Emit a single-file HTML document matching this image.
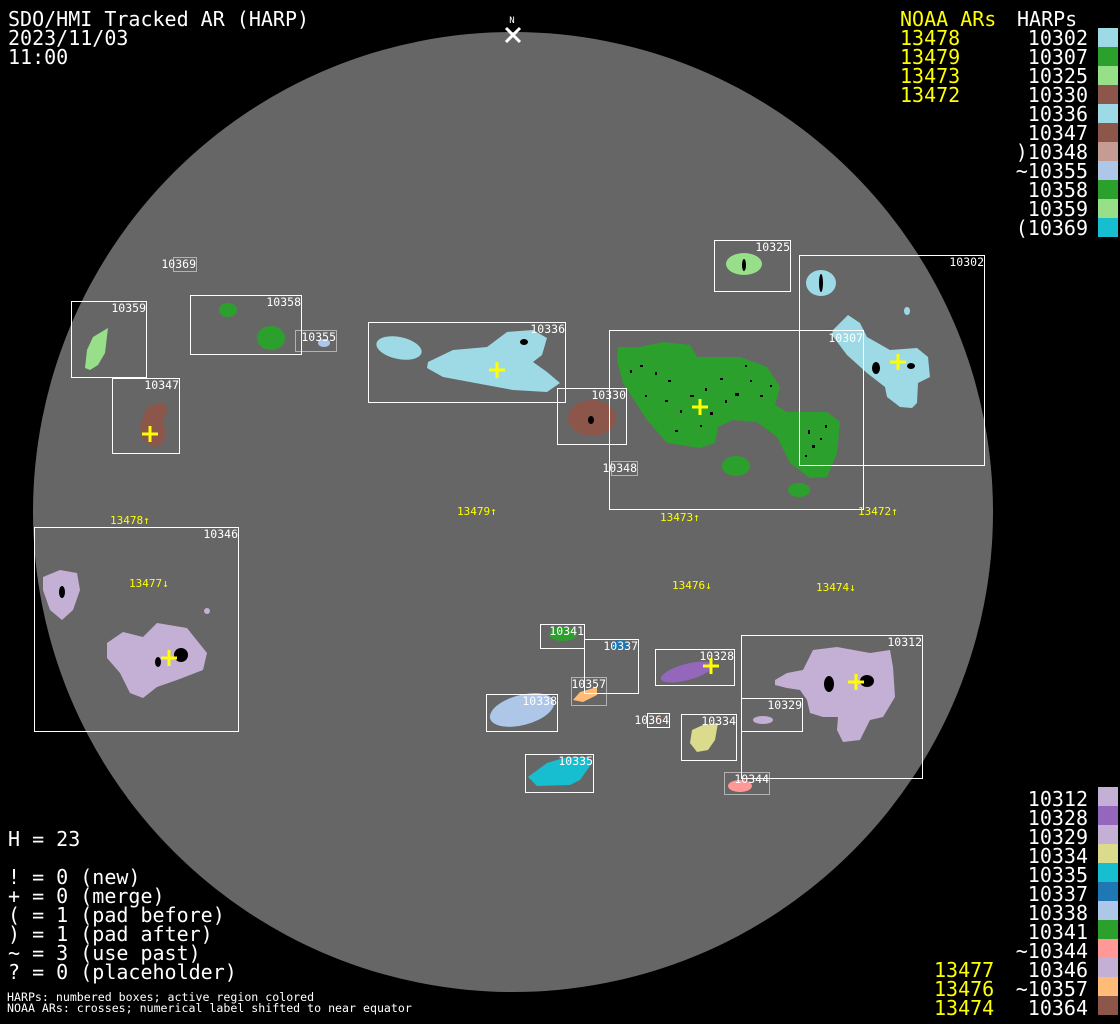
<!DOCTYPE html>
<html><head><meta charset="utf-8">
<style>
html,body{margin:0;padding:0;background:#000;}
#w{position:relative;width:1120px;height:1024px;overflow:hidden;background:#000;font-family:"DejaVu Sans Mono","Liberation Mono",monospace;color:#fff;}
.t{position:absolute;font-size:20px;line-height:19px;white-space:pre;}
.y{color:#ffff00;}
.sw{position:absolute;left:1098px;width:20px;height:19px;}
svg{position:absolute;left:0;top:0;}
svg text{font-family:"DejaVu Sans Mono","Liberation Mono",monospace;}
</style></head><body><div id="w">
<svg width="1120" height="1024" viewBox="0 0 1120 1024">
<circle cx="513" cy="512" r="480" fill="#666666"/>
<g>
<polygon fill="#9edae5" points="833,330 848,315 860,323 867,337 890,350 917,348 928,357 930,377 918,383 917,403 912,408 900,407 887,397 885,387 867,373 847,355 832,335"/>
<ellipse fill="#9edae5" cx="821" cy="283" rx="15" ry="13"/>
<ellipse fill="#9edae5" cx="907" cy="311" rx="3" ry="4"/>
<ellipse fill="#98df8a" cx="744" cy="264" rx="18" ry="11"/>
<polygon fill="#2ca02c" points="618,347 640,347 663,342 690,345 697,357 740,357 767,367 780,387 775,405 787,412 827,412 840,422 837,453 827,477 810,478 790,463 777,437 757,422 733,420 718,427 715,443 700,448 667,443 647,420 623,383 617,360"/>
<ellipse fill="#2ca02c" cx="736" cy="466" rx="14" ry="10"/>
<ellipse fill="#2ca02c" cx="799" cy="490" rx="11" ry="7"/>
<ellipse fill="#8c564b" cx="592" cy="418" rx="24" ry="18"/>
<ellipse fill="#9edae5" cx="399" cy="348" rx="23" ry="11" transform="rotate(12 399 348)"/>
<polygon fill="#9edae5" points="428,362 453,350 487,347 507,332 533,330 547,338 542,355 533,362 547,372 560,383 547,392 513,390 470,382 443,377 427,368"/>
<polygon fill="#8c564b" points="147,407 162,402 168,408 163,420 166,433 162,445 152,447 142,438 140,425"/>
<polygon fill="#98df8a" points="85,368 87,350 93,337 108,328 105,353 98,365 90,370"/>
<ellipse fill="#2ca02c" cx="228" cy="310" rx="9" ry="7"/>
<ellipse fill="#2ca02c" cx="271" cy="338" rx="14" ry="12"/>
<ellipse fill="#aec7e8" cx="324" cy="343" rx="6" ry="4"/>
<polygon fill="#c5b0d5" points="43,577 60,570 77,573 80,590 73,610 62,620 50,610 43,590"/>
<polygon fill="#c5b0d5" points="107,643 123,632 143,637 157,623 187,628 207,653 203,670 177,680 157,687 143,698 130,693 120,673 107,658"/>
<ellipse fill="#c5b0d5" cx="207" cy="611" rx="3" ry="3"/>
<polygon fill="#c5b0d5" points="775,680 787,673 803,670 813,650 837,647 870,653 890,650 893,667 895,697 883,717 870,720 860,740 843,742 837,730 838,717 823,717 810,713 807,700 800,690 787,688 775,685"/>
<ellipse fill="#9467bd" cx="687" cy="672" rx="27" ry="8" transform="rotate(-15 687 672)"/>
<ellipse fill="#c5b0d5" cx="763" cy="720" rx="10" ry="4"/>
<polygon fill="#dbdb8d" points="692,730 703,725 718,723 715,740 708,750 697,752 690,743"/>
<ellipse fill="#aec7e8" cx="522" cy="710" rx="33" ry="15" transform="rotate(-15 522 710)"/>
<polygon fill="#17becf" points="528,777 547,763 567,757 587,757 592,763 580,780 570,785 537,786"/>
<polygon fill="#ffbb78" points="573,700 580,692 597,687 597,695 583,702"/>
<ellipse fill="#2ca02c" cx="563" cy="634" rx="14" ry="7"/>
<ellipse fill="#1f77b4" cx="620" cy="645" rx="9" ry="5"/>
<ellipse fill="#ff9896" cx="740" cy="786" rx="12" ry="6"/>
<ellipse fill="#8c564b" cx="658" cy="718" rx="3" ry="3"/>
</g>
<g fill="#000">
<ellipse cx="181" cy="655" rx="7" ry="7"/>
<ellipse cx="158" cy="662" rx="3" ry="5"/>
<ellipse cx="62" cy="592" rx="3" ry="6"/>
<ellipse cx="829" cy="684" rx="5" ry="8"/>
<ellipse cx="867" cy="681" rx="7" ry="6"/>
<ellipse cx="876" cy="368" rx="4" ry="6"/>
<ellipse cx="911" cy="366" rx="4" ry="3"/>
<ellipse cx="821" cy="283" rx="2" ry="9"/>
<ellipse cx="524" cy="342" rx="4" ry="3"/>
<ellipse cx="591" cy="420" rx="3" ry="4"/>
<ellipse cx="744" cy="265" rx="2" ry="6"/>
<rect x="640" y="365" width="3" height="2"/><rect x="655" y="372" width="2" height="3"/><rect x="668" y="380" width="3" height="2"/>
<rect x="690" y="395" width="4" height="2"/><rect x="705" y="388" width="2" height="3"/><rect x="720" y="378" width="3" height="2"/>
<rect x="735" y="393" width="4" height="3"/><rect x="750" y="380" width="2" height="2"/><rect x="760" y="395" width="3" height="2"/>
<rect x="680" y="410" width="2" height="3"/><rect x="665" y="400" width="3" height="2"/><rect x="700" y="425" width="2" height="2"/>
<rect x="710" y="412" width="3" height="3"/><rect x="645" y="395" width="2" height="2"/><rect x="630" y="370" width="2" height="3"/>
<rect x="808" y="430" width="2" height="4"/><rect x="812" y="445" width="3" height="3"/><rect x="820" y="438" width="2" height="2"/>
<rect x="805" y="455" width="2" height="2"/><rect x="825" y="425" width="2" height="3"/><rect x="745" y="365" width="2" height="2"/>
<rect x="770" y="385" width="2" height="2"/><rect x="725" y="400" width="2" height="3"/><rect x="675" y="430" width="3" height="2"/>
</g>
<g fill="none" stroke="#fff" stroke-width="1">
<rect x="799.5" y="255.5" width="185" height="210"/>
<rect x="609.5" y="330.5" width="254" height="179"/>
<rect x="714.5" y="240.5" width="76" height="51"/>
<rect x="557.5" y="388.5" width="69" height="56"/>
<rect x="368.5" y="322.5" width="197" height="80"/>
<rect x="112.5" y="378.5" width="67" height="75"/>
<rect x="71.5" y="301.5" width="75" height="76"/>
<rect x="190.5" y="295.5" width="111" height="59"/>
<rect x="34.5" y="527.5" width="204" height="204"/>
<rect x="540.5" y="624.5" width="44" height="24"/>
<rect x="584.5" y="639.5" width="54" height="54"/>
<rect x="655.5" y="649.5" width="79" height="36"/>
<rect x="741.5" y="635.5" width="181" height="143"/>
<rect x="741.5" y="698.5" width="61" height="33"/>
<rect x="486.5" y="694.5" width="71" height="37"/>
<rect x="647.5" y="713.5" width="22" height="14"/>
<rect x="681.5" y="714.5" width="55" height="46"/>
<rect x="525.5" y="754.5" width="68" height="38"/>
</g>
<g fill="none" stroke="#fff" stroke-width="1" stroke-dasharray="1 1">
<rect x="295.5" y="330.5" width="41" height="21"/>
<rect x="173.5" y="257.5" width="23" height="14"/>
<rect x="611.5" y="461.5" width="26" height="14"/>
<rect x="571.5" y="677.5" width="35" height="28"/>
<rect x="724.5" y="772.5" width="45" height="22"/>
</g>
<g fill="#fff" font-size="11.5" text-anchor="end">
<text x="984" y="266">10302</text>
<text x="863" y="342">10307</text>
<text x="790" y="251">10325</text>
<text x="626" y="399">10330</text>
<text x="565" y="333">10336</text>
<text x="179" y="389">10347</text>
<text x="146" y="312">10359</text>
<text x="301" y="306">10358</text>
<text x="336" y="341">10355</text>
<text x="196" y="268">10369</text>
<text x="637" y="472">10348</text>
<text x="238" y="538">10346</text>
<text x="584" y="635">10341</text>
<text x="638" y="650">10337</text>
<text x="734" y="660">10328</text>
<text x="922" y="646">10312</text>
<text x="802" y="709">10329</text>
<text x="606" y="688">10357</text>
<text x="557" y="705">10338</text>
<text x="669" y="724">10364</text>
<text x="736" y="725">10334</text>
<text x="593" y="765">10335</text>
<text x="769" y="783">10344</text>
</g>
<g fill="#ffff00" font-size="11">
<text x="110" y="524">13478↑</text>
<text x="457" y="515">13479↑</text>
<text x="660" y="521">13473↑</text>
<text x="858" y="515">13472↑</text>
<text x="129" y="587">13477↓</text>
<text x="672" y="589">13476↓</text>
<text x="816" y="591">13474↓</text>
</g>
<g stroke="#ffff00" stroke-width="3">
<path d="M489 370h16M497 362v16"/>
<path d="M692 407h16M700 399v16"/>
<path d="M890 362h16M898 354v16"/>
<path d="M142 434h16M150 426v16"/>
<path d="M161 658h16M169 650v16"/>
<path d="M703 666h16M711 658v16"/>
<path d="M848 682h16M856 674v16"/>
</g>
<path d="M506 28L520 42M520 28L506 42" stroke="#fff" stroke-width="3"/>
<text x="512" y="23" fill="#fff" font-size="9" text-anchor="middle">N</text>
</svg>

<div class="t" style="left:8px;top:10px;">SDO/HMI Tracked AR (HARP)
2023/11/03
11:00</div>

<div class="t y" style="left:900px;top:10px;">NOAA ARs
13478
13479
13473
13472</div>
<div class="t" style="left:1017px;top:10px;">HARPs</div>
<div class="t" style="right:32px;top:29px;text-align:right;">10302
10307
10325
10330
10336
10347
)10348
~10355
10358
10359
(10369</div>
<div class="sw" style="top:28px;background:#9edae5"></div>
<div class="sw" style="top:47px;background:#2ca02c"></div>
<div class="sw" style="top:66px;background:#98df8a"></div>
<div class="sw" style="top:85px;background:#8c564b"></div>
<div class="sw" style="top:104px;background:#9edae5"></div>
<div class="sw" style="top:123px;background:#8c564b"></div>
<div class="sw" style="top:142px;background:#c49c94"></div>
<div class="sw" style="top:161px;background:#aec7e8"></div>
<div class="sw" style="top:180px;background:#2ca02c"></div>
<div class="sw" style="top:199px;background:#98df8a"></div>
<div class="sw" style="top:218px;background:#17becf"></div>

<div class="t" style="right:32px;top:790px;text-align:right;">10312
10328
10329
10334
10335
10337
10338
10341
~10344
10346
~10357
10364</div>
<div class="t y" style="left:934px;top:961px;">13477
13476
13474</div>
<div class="sw" style="top:787px;background:#c5b0d5"></div>
<div class="sw" style="top:806px;background:#9467bd"></div>
<div class="sw" style="top:825px;background:#c5b0d5"></div>
<div class="sw" style="top:844px;background:#dbdb8d"></div>
<div class="sw" style="top:863px;background:#17becf"></div>
<div class="sw" style="top:882px;background:#1f77b4"></div>
<div class="sw" style="top:901px;background:#aec7e8"></div>
<div class="sw" style="top:920px;background:#2ca02c"></div>
<div class="sw" style="top:939px;background:#ff9896"></div>
<div class="sw" style="top:958px;background:#c5b0d5"></div>
<div class="sw" style="top:977px;background:#ffbb78"></div>
<div class="sw" style="top:996px;background:#8c564b"></div>

<div class="t" style="left:8px;top:830px;">H = 23</div>
<div class="t" style="left:8px;top:868px;">! = 0 (new)
+ = 0 (merge)
( = 1 (pad before)
) = 1 (pad after)
~ = 3 (use past)
? = 0 (placeholder)</div>
<div class="t" style="left:7px;top:992px;font-size:11.6px;line-height:11px;">HARPs: numbered boxes; active region colored
NOAA ARs: crosses; numerical label shifted to near equator</div>
</div></body></html>
